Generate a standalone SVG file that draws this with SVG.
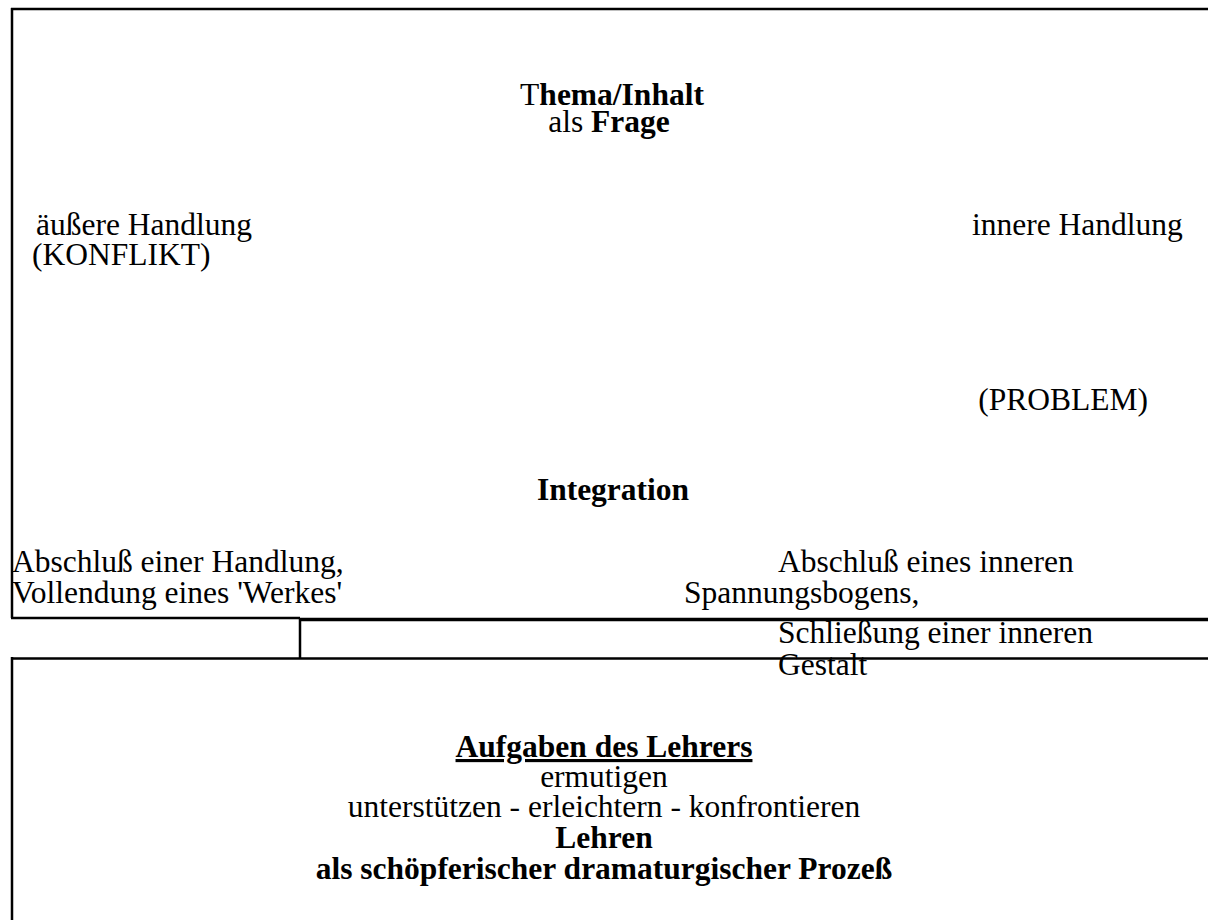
<svg xmlns="http://www.w3.org/2000/svg" width="1208" height="920" viewBox="0 0 1208 920">
<style>
.t{font-family:"Liberation Serif","Times New Roman",serif;font-size:31.5px;fill:#000}
.b{font-weight:bold}
.m{text-anchor:middle}
.e{text-anchor:end}
.ln{stroke:#000;stroke-width:2.5;fill:none}
</style>
<rect width="1208" height="920" fill="#fff"/>
<g id="frame">
<path class="ln" d="M11 9H1208M12 8V618M11 618H300M12 657V920M11 658.5H1208M300 618V659"/>
<path d="M300 619.5H1208" stroke="#000" stroke-width="3.5"/>
</g>
<g id="thema">
<text class="t b m" x="612" y="105"><tspan font-weight="normal">T</tspan>hema/Inhalt</text>
<text class="t m" x="609" y="132">als <tspan class="b">Frage</tspan></text>
</g>
<g id="aeussere">
<text class="t" x="36" y="235">äußere Handlung</text>
<text class="t" x="32" y="265">(KONFLIKT)</text>
</g>
<g id="innere">
<text class="t" x="972" y="235">innere Handlung</text>
<text class="t e" x="1148" y="410">(PROBLEM)</text>
</g>
<g id="integration">
<text class="t b m" x="613" y="500">Integration</text>
</g>
<g id="abschluss-links">
<text class="t" x="12" y="572">Abschluß einer Handlung,</text>
<text class="t" x="12" y="603">Vollendung eines 'Werkes'</text>
</g>
<g id="abschluss-rechts">
<text class="t" x="778" y="572">Abschluß eines inneren</text>
<text class="t" x="684" y="603">Spannungsbogens,</text>
<text class="t" x="778" y="643">Schließung einer inneren</text>
<text class="t" x="778" y="675">Gestalt</text>
</g>
<g id="lehrer">
<text class="t b m" text-decoration="underline" x="604" y="757">Aufgaben des Lehrers</text>
<text class="t m" x="604" y="787">ermutigen</text>
<text class="t m" x="604" y="817">unterstützen - erleichtern - konfrontieren</text>
<text class="t b m" x="604" y="848">Lehren</text>
<text class="t b m" x="604" y="879">als schöpferischer dramaturgischer Prozeß</text>
</g>
</svg>
